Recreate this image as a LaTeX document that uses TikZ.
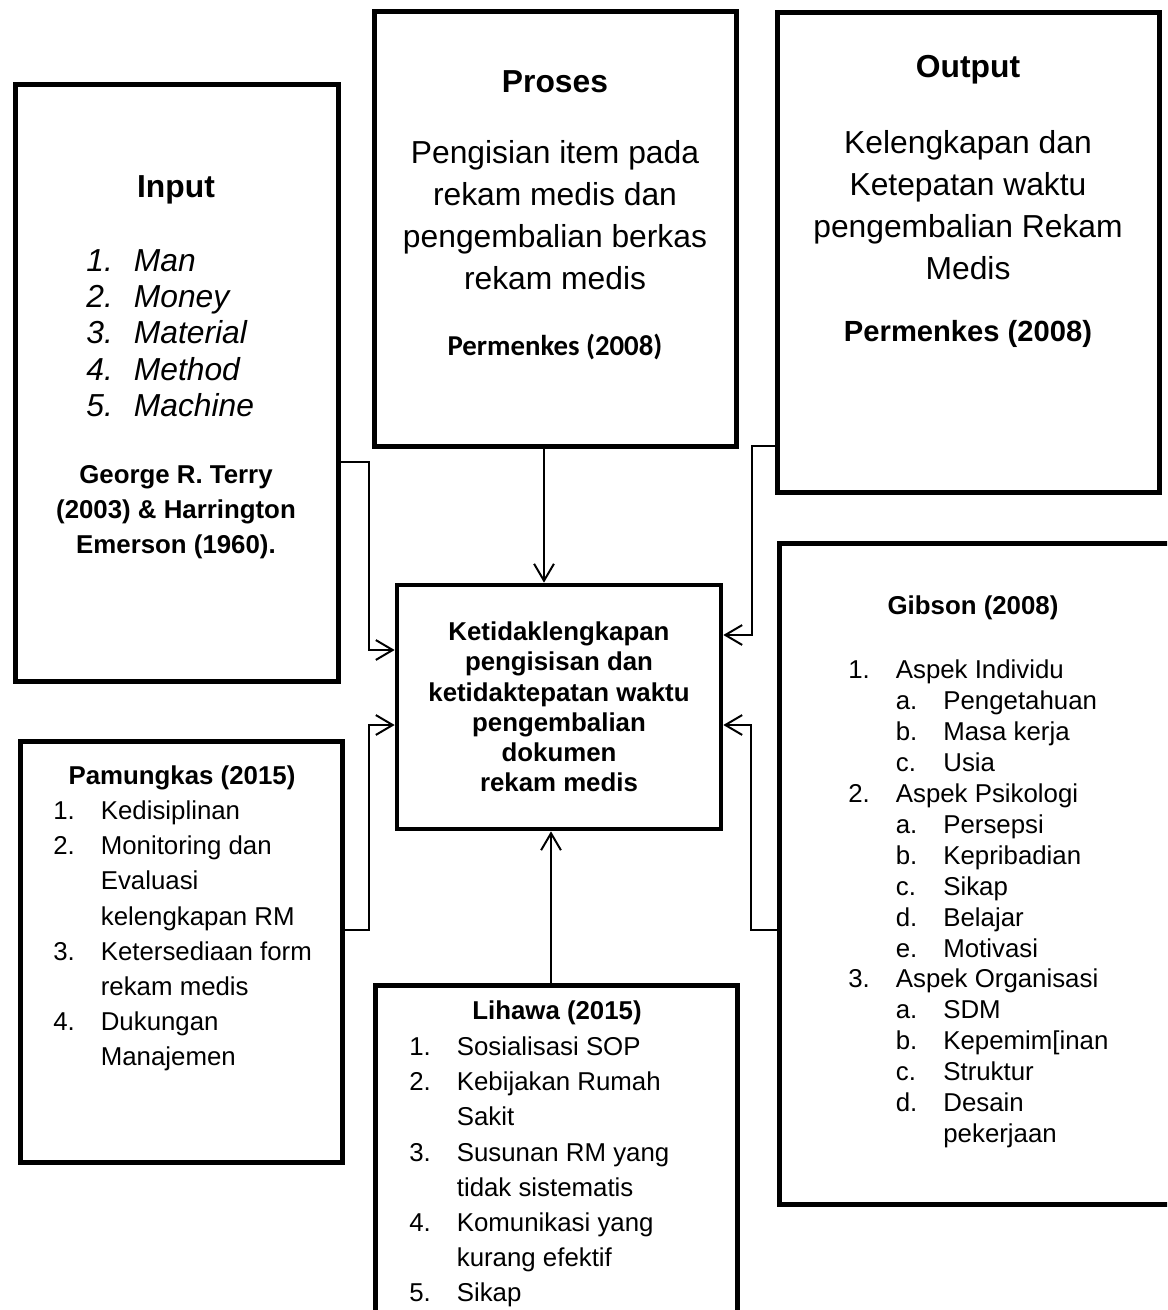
\documentclass[tikz,border=0pt]{standalone}
\usepackage{fontspec}
\setmainfont{Liberation Sans}
\newfontfamily\calibri{Carlito}
\usetikzlibrary{arrows.meta}
\newdimen\px \px=0.02cm
\newcommand{\nm}[1]{\makebox[47.5\px][l]{#1}}
\newcommand{\gap}{\hspace*{47.5\px}}
\begin{document}
\begin{tikzpicture}[x=0.02cm, y=-0.02cm,
      box/.style = {draw, line width=2.7pt, inner sep=0pt, anchor=north west},
      conn/.style = {line width=1.13pt, -{Straight Barb[length=9.6pt, width=11.3pt]}},
      ttl/.style = {inner sep=0pt, font=\bfseries\fontsize{18.1pt}{23.8pt}\selectfont},
      body/.style = {inner sep=0pt, align=center, font=\fontsize{18.1pt}{23.8pt}\selectfont},
      ref/.style = {inner sep=0pt, align=center, font=\bfseries\fontsize{14.7pt}{19.8pt}\selectfont},
      lst/.style = {inner sep=0pt, align=left, anchor=west, font=\fontsize{14.7pt}{20pt}\selectfont}]
    \useasboundingbox (0,0) rectangle (1167,1310);
    \clip (0,0) rectangle (1167,1310);
    \node[box, minimum width=6.46cm, minimum height=11.94cm] (input) at (13,82) {};
    \node[box, minimum width=7.24cm, minimum height=8.70cm] (proses) at (372,9) {};
    \node[box, minimum width=7.64cm, minimum height=9.60cm] (output) at (775,10) {};
    \node[box, minimum width=6.44cm, minimum height=8.42cm] (pamungkas) at (18,739) {};
    \node[box, minimum width=7.24cm, minimum height=7.20cm] (lihawa) at (373,983) {};
    \node[box, minimum width=8.20cm, minimum height=13.22cm] (gibson) at (777,541) {};
    \node[box, minimum width=6.48cm, minimum height=4.88cm, anchor=center, align=center,
      font=\bfseries\fontsize{14.7pt}{17.2pt}\selectfont] (masalah) at (559,707)
      {Ketidaklengkapan\\pengisisan dan\\ketidaktepatan waktu\\pengembalian\\dokumen\\rekam medis};

    \node[ttl] (inTitle) at (176,190) {Input};
    \node[lst, font=\itshape\fontsize{18.1pt}{20.7pt}\selectfont] (inList) at (86,333)
      {\nm{1.}Man\\\nm{2.}Money\\\nm{3.}Material\\\nm{4.}Method\\\nm{5.}Machine};
    \node[ref] (inRef) at (176,512) {George R. Terry\\(2003) \& Harrington\\Emerson (1960).};

    \node[ttl] (prTitle) at (555,82) {Proses};
    \node[body] (prText) at (555,215) {Pengisian item pada\\rekam medis dan\\pengembalian berkas\\rekam medis};
    \node[ref, font=\calibri\bfseries\fontsize{16.4pt}{19.8pt}\selectfont] (prRef) at (555,347) {Permenkes (2008)};

    \node[ttl] (outTitle) at (968,70) {Output};
    \node[body] (outText) at (968,205) {Kelengkapan dan\\Ketepatan waktu\\pengembalian Rekam\\Medis};
    \node[ref, font=\bfseries\fontsize{16.6pt}{19.8pt}\selectfont] (outRef) at (968,334) {Permenkes (2008)};

    \node[ref] (pamTitle) at (182,778) {Pamungkas (2015)};
    \node[lst] (pamList) at (53,936)
      {\nm{1.}Kedisiplinan\\\nm{2.}Monitoring dan\\\gap Evaluasi\\\gap kelengkapan RM\\
       \nm{3.}Ketersediaan form\\\gap rekam medis\\\nm{4.}Dukungan\\\gap Manajemen};

    \node[ref] (lihTitle) at (557,1013) {Lihawa (2015)};
    \node[lst] (lihList) at (409,1172)
      {\nm{1.}Sosialisasi SOP\\\nm{2.}Kebijakan Rumah\\\gap Sakit\\\nm{3.}Susunan RM yang\\
       \gap tidak sistematis\\\nm{4.}Komunikasi yang\\\gap kurang efektif\\\nm{5.}Sikap};

    \node[ref] (gibTitle) at (973,608) {Gibson (2008)};
    \node[lst, font=\fontsize{14.7pt}{17.6pt}\selectfont] (gibList) at (848,904)
      {\nm{1.}Aspek Individu\\\gap\nm{a.}Pengetahuan\\\gap\nm{b.}Masa kerja\\\gap\nm{c.}Usia\\
       \nm{2.}Aspek Psikologi\\\gap\nm{a.}Persepsi\\\gap\nm{b.}Kepribadian\\\gap\nm{c.}Sikap\\
       \gap\nm{d.}Belajar\\\gap\nm{e.}Motivasi\\
       \nm{3.}Aspek Organisasi\\\gap\nm{a.}SDM\\\gap\nm{b.}Kepemim[inan\\\gap\nm{c.}Struktur\\
       \gap\nm{d.}Desain\\\gap\gap pekerjaan};

    \draw[conn] (input.east |- 0,462) -- ++(28,0) |- (masalah.west |- 0,650);
    \draw[conn] (proses.south -| 544,0) -- (masalah.north -| 544,0);
    \draw[conn] (output.west |- 0,446) -- ++(-23,0) |- (masalah.east |- 0,635);
    \draw[conn] (pamungkas.east |- 0,930) -- ++(24,0) |- (masalah.west |- 0,725);
    \draw[conn] (lihawa.north -| 551,0) -- (masalah.south -| 551,0);
    \draw[conn] (gibson.west |- 0,930) -- ++(-26,0) |- (masalah.east |- 0,725);
\end{tikzpicture}
\end{document}
